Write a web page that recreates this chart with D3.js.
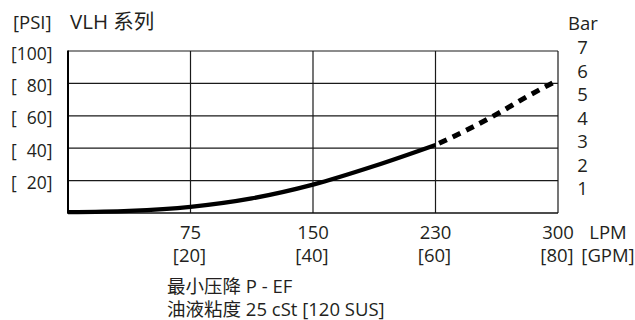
<!DOCTYPE html>
<html>
<head>
<meta charset="utf-8">
<script src="https://cdn.jsdelivr.net/npm/d3@7"></script>
<style>
  html, body { margin: 0; padding: 0; background: #fff; }
  svg { display: block; }
  text { font-family: "Open Sans", "Noto Sans CJK SC", sans-serif; fill: #231f20; }
</style>
</head>
<body>
<svg id="chart" width="635" height="320"></svg>
<script>
// Flow in GPM against pressure drop in PSI
const gpmTicks = [20, 40, 60, 80];
const lpmLabels = ["75", "150", "230", "300"];
const psiTicks = [20, 40, 60, 80, 100];
const barTicks = [1, 2, 3, 4, 5, 6, 7];

// measured range (solid) and extrapolated range (dashed)
const solidGpm = [0, 10, 20, 30, 40, 50, 60];
const solidPsi = [0.5, 1.3, 3.8, 9, 17.5, 29, 42];
const dashGpm = [60, 65, 70, 75, 80];
const dashPsi = [42, 51, 61, 72, 82];

const PSI_PER_BAR = 14.5038;

const svg = d3.select("#chart");
const x = d3.scaleLinear().domain([0, 80]).range([68, 558]);
const y = d3.scaleLinear().domain([0, 100]).range([213, 51]);
const yBar = d3.scaleLinear().domain([0, 100 / PSI_PER_BAR]).range([213, 51]);

// grid
const grid = svg.append("g").attr("stroke", "#1a1a1a").attr("stroke-width", 1.2);
grid.selectAll("line.h").data(psiTicks).join("line")
  .attr("x1", x(0)).attr("x2", x(80))
  .attr("y1", d => y(d)).attr("y2", d => y(d));
grid.selectAll("line.v").data(gpmTicks).join("line")
  .attr("y1", y(0)).attr("y2", y(100))
  .attr("x1", d => x(d)).attr("x2", d => x(d));
// bottom and left borders
svg.append("line").attr("x1", x(0)).attr("x2", x(80)).attr("y1", y(0)).attr("y2", y(0))
  .attr("stroke", "#111").attr("stroke-width", 1.5);
svg.append("line").attr("x1", x(0)).attr("x2", x(0)).attr("y1", y(0) + 0.75).attr("y2", y(100) - 0.6)
  .attr("stroke", "#000").attr("stroke-width", 2);

// curves
const line = d3.line().x(d => x(d[0])).y(d => y(d[1])).curve(d3.curveMonotoneX);
svg.append("path")
  .attr("d", line(d3.zip(solidGpm, solidPsi)))
  .attr("fill", "none").attr("stroke", "#000").attr("stroke-width", 4.2);
svg.append("path")
  .attr("d", line(d3.zip(dashGpm, dashPsi)))
  .attr("fill", "none").attr("stroke", "#000").attr("stroke-width", 5)
  .attr("stroke-dasharray", "8.5,6.5").attr("stroke-dashoffset", -4);

const fs = 18.5;
const fsLeft = 17.5;
const leftEdge = 52.5;

// left PSI labels: closing bracket right-aligned, opening bracket aligned with the widest label
const left = svg.append("g").attr("font-size", fsLeft);
const probe = left.append("text").text("[" + d3.max(psiTicks) + "]");
const widest = probe.node().getComputedTextLength();
probe.remove();
const bracketX = leftEdge - widest;
left.selectAll("text").data(psiTicks).join("text")
  .attr("y", d => y(d) + 8.5)
  .each(function (d) {
    const t = d3.select(this);
    t.append("tspan").attr("x", bracketX).attr("text-anchor", "start").text("[");
    t.append("tspan").attr("x", leftEdge).attr("text-anchor", "end").text(d + "]");
  });
left.append("text").attr("x", 13).attr("y", 29).attr("font-size", fs).text("[PSI]");

// title
svg.append("text").attr("x", 70).attr("y", 29).attr("font-size", 20.5).text("VLH 系列");

// right bar labels
const right = svg.append("g").attr("font-size", fs).attr("text-anchor", "middle");
right.selectAll("text").data(barTicks).join("text")
  .attr("x", 582.5).attr("y", d => yBar(d) + 5.5).text(d => d);
right.append("text").attr("x", 583).attr("y", 30).text("Bar");

// bottom flow labels
const bottom = svg.append("g").attr("font-size", fs).attr("text-anchor", "middle");
bottom.selectAll("text.lpm").data(gpmTicks).join("text")
  .attr("x", d => x(d)).attr("y", 238.5).text((d, i) => lpmLabels[i]);
bottom.selectAll("text.gpm").data(gpmTicks).join("text")
  .attr("x", d => x(d) - 1).attr("y", 261.5).text(d => "[" + d + "]");
bottom.append("text").attr("x", 608).attr("y", 238.5).text("LPM");
bottom.append("text").attr("x", 608).attr("y", 261.5).text("[GPM]");

// notes
const notes = svg.append("g").attr("font-size", fs);
notes.append("text").attr("x", 167).attr("y", 293).text("最小压降 P - EF");
notes.append("text").attr("x", 167).attr("y", 315.5).text("油液粘度 25 cSt [120 SUS]");
</script>
</body>
</html>
